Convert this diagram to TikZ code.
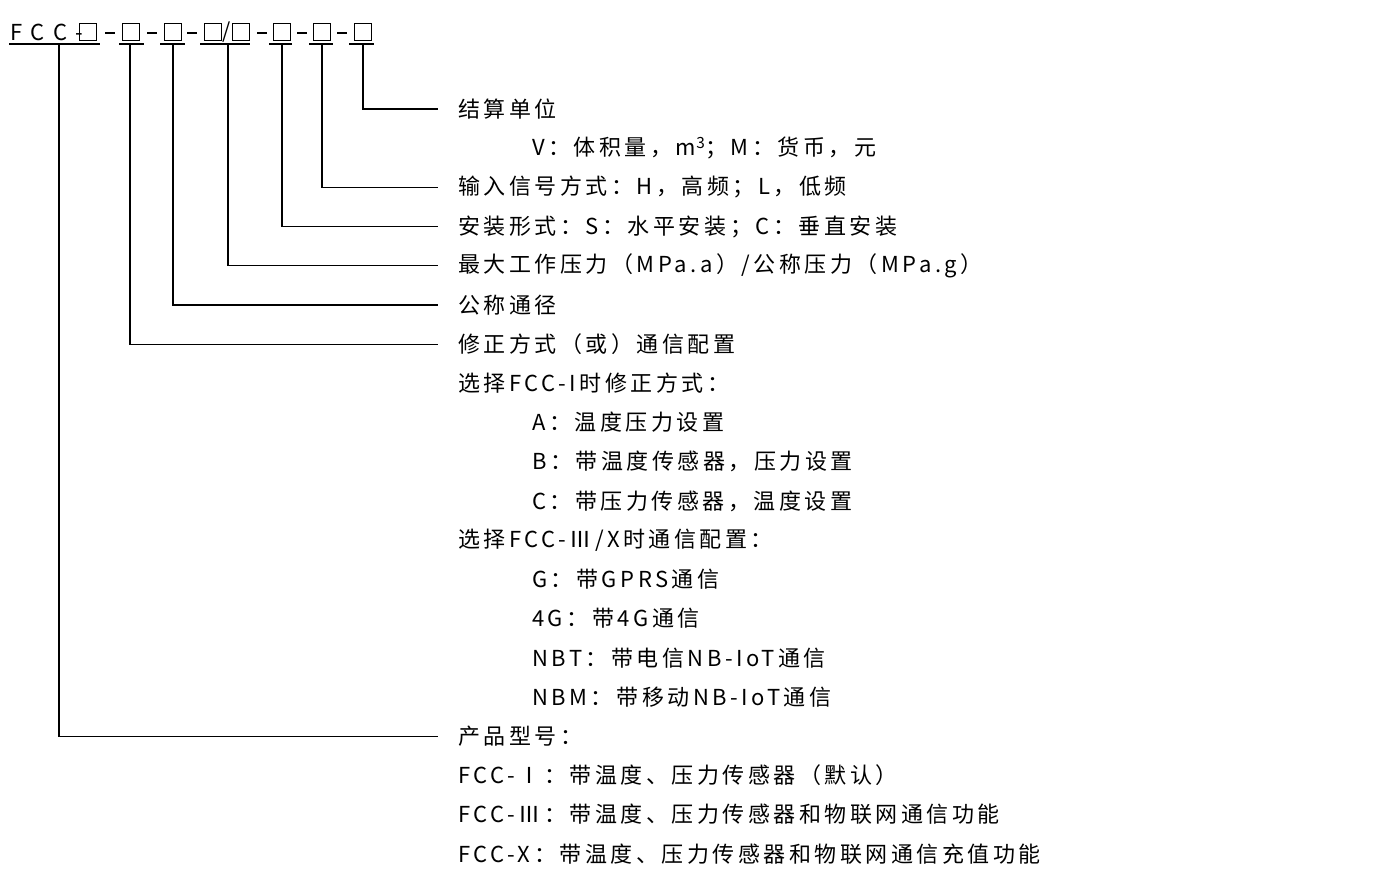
\documentclass[tikz,border=0pt]{standalone}
\usepackage{fontspec}
\setmainfont{Noto Sans CJK SC}[LetterSpace=16]
\begin{document}
\begin{tikzpicture}[x=1pt,y=-1pt,
  lbl/.style={anchor=west,inner sep=0pt,font=\fontsize{22}{24}\selectfont},
  bx/.style={draw,line width=1pt,minimum size=17pt,inner sep=0pt},
  ln/.style={line width=1.2pt}]
\useasboundingbox (0,0) rectangle (1400,895);
\node[lbl] (fcc) at (10,32) {\addfontfeatures{LetterSpace=40}FCC-};
\foreach \n/\x in {b1/88,b2/131,b3/173,b4/213,b5/241,b6/282,b7/322,b8/363}
  \node[bx] (\n) at (\x,32) {};
\foreach \x in {110,152,192,262,302,342} \draw[ln] (\x-5,33)--(\x+5,33);
\node[font=\fontsize{21}{24}\selectfont,inner sep=0pt] (sl) at (227,32) {/};
\foreach \a/\b in {9/100,119/144,160/185,200/250,269/292,309/333,349/374}
  \draw[ln] (\a,44)--(\b,44);
\foreach \i/\t/\x in {
 0/结算单位/458, 1/{V：体积量，m\textsuperscript{3}；M：货币，元}/532,
 2/{输入信号方式：H，高频；L，低频}/458, 3/{安装形式：S：水平安装；C：垂直安装}/458,
 4/{最大工作压力（MPa.a）/公称压力（MPa.g）}/458, 5/公称通径/458,
 6/修正方式（或）通信配置/458, 7/{选择FCC-I时修正方式：}/458,
 8/{A：温度压力设置}/532, 9/{B：带温度传感器，压力设置}/532,
 10/{C：带压力传感器，温度设置}/532, 11/{选择FCC-Ⅲ/X时通信配置：}/458,
 12/{G：带GPRS通信}/532, 13/{4G：带4G通信}/532, 14/{NBT：带电信NB-IoT通信}/532,
 15/{NBM：带移动NB-IoT通信}/532, 16/{产品型号：}/458,
 17/{FCC-Ⅰ：带温度、压力传感器（默认）}/458,
 18/{FCC-Ⅲ：带温度、压力传感器和物联网通信功能}/458,
 19/{FCC-X：带温度、压力传感器和物联网通信充值功能}/458}
  \node[lbl] (t\i) at (\x,109+39.2*\i) {\t};
\foreach \x/\i in {363/0,322/2,282/3,228/4,173/5,130/6,59/16}
  \draw[ln] (\x,44) |- (438,109+39.2*\i);
\end{tikzpicture}
\end{document}
